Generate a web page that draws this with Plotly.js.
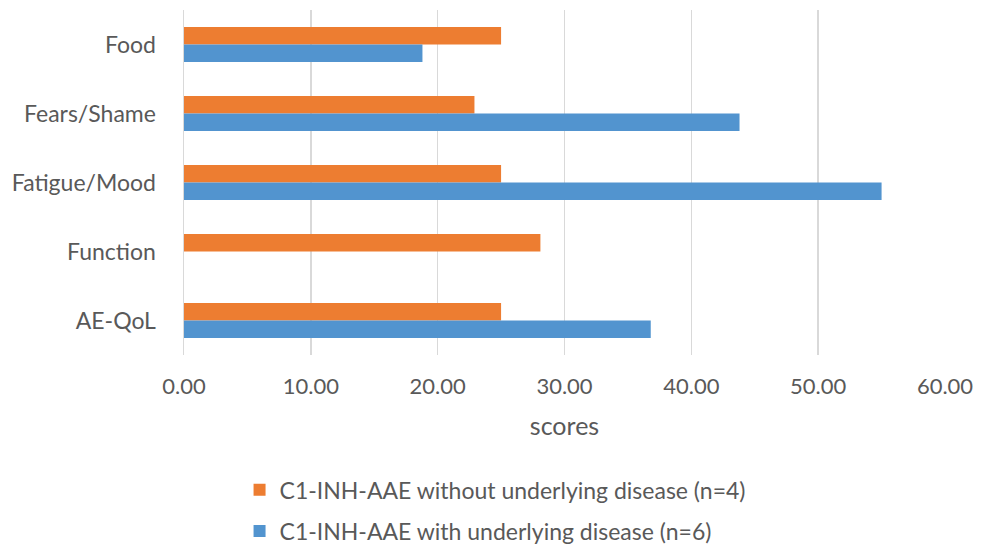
<!DOCTYPE html>
<html>
<head>
<meta charset="utf-8">
<script src="https://cdn.plot.ly/plotly-3.0.1.min.js"></script>
<style>html,body{margin:0;padding:0;background:#fff;}#chart{width:988px;height:546px;}</style>
</head>
<body>
<div id="chart"></div>
<script>
const categories = ["Food", "Fears/Shame", "Fatigue/Mood", "Function", "AE-QoL"];
const withoutDisease = [25.0, 22.9, 25.0, 28.1, 25.0];
const withDisease = [18.8, 43.8, 55.0, 0, 36.8];
const seriesNames = ["C1-INH-AAE without underlying disease (n=4)", "C1-INH-AAE with underlying disease (n=6)"];
const tickVals = [0, 10, 20, 30, 40, 50, 60];
const tickText = ["0.00", "10.00", "20.00", "30.00", "40.00", "50.00", "60.00"];

const font = "Lato, 'Open Sans', 'Liberation Sans', sans-serif";
const grey = "#595959";

const traces = [
  {type: "bar", orientation: "h", name: seriesNames[0], y: categories, x: withoutDisease,
   marker: {color: "#ED7D31"}, legend: "legend", hoverinfo: "x+y"},
  {type: "bar", orientation: "h", name: seriesNames[1], y: categories, x: withDisease,
   marker: {color: "#5294CF"}, legend: "legend2", hoverinfo: "x+y"}
];

const layout = {
  width: 988, height: 546,
  margin: {l: 184, r: 43, t: 10, b: 191, autoexpand: false},
  paper_bgcolor: "#fff", plot_bgcolor: "#fff",
  barmode: "group", bargap: 0.49, bargroupgap: 0,
  font: {family: font, color: grey, size: 22},
  xaxis: {
    range: [0, 60], tickvals: tickVals, ticktext: tickText, automargin: false,
    showgrid: true, gridcolor: "#D9D9D9", gridwidth: 1.5,
    zeroline: false, showline: false, ticks: "",
    tickfont: {size: 22, color: grey}, ticklabelstandoff: 16,
    title: {text: "scores", font: {size: 25, color: grey}, standoff: 19}
  },
  yaxis: {
    type: "category", autorange: "reversed", automargin: false,
    showgrid: false, zeroline: false, showline: true, linecolor: "#D9D9D9", linewidth: 1.5,
    ticks: "", tickfont: {size: 23, color: grey}, ticklabelstandoff: 22
  },
  showlegend: true,
  legend: {x: 0.073, xanchor: "left", y: -0.391, yanchor: "middle", orientation: "v",
           font: {size: 23, color: grey}, itemwidth: 30, bgcolor: "rgba(0,0,0,0)"},
  legend2: {x: 0.073, xanchor: "left", y: -0.51, yanchor: "middle", orientation: "v",
           font: {size: 23, color: grey}, itemwidth: 30, bgcolor: "rgba(0,0,0,0)"}
};

Plotly.newPlot("chart", traces, layout, {displayModeBar: false, staticPlot: true});
</script>
</body>
</html>
